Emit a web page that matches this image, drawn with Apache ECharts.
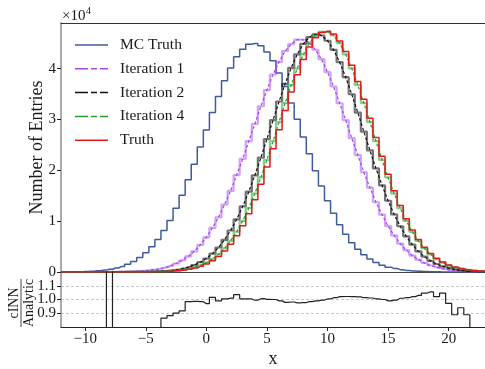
<!DOCTYPE html>
<html lang="en">
<head>
    <meta charset="UTF-8">
    <title>Unfolding iterations</title>
    <script src="https://cdn.jsdelivr.net/npm/echarts@6/dist/echarts.min.js"></script>
    <style>
        html, body { margin: 0; padding: 0; background: #fff; }
        #main { width: 485px; height: 369px; }
    </style>
</head>
<body>
<div id="main"></div>
<script>
    // bin centres, -12 ... 23 in steps of 0.5
    var binCenters = [];
    for (var b = -24; b <= 46; b++) binCenters.push(b / 2);

    var xTicks = [-10, -5, 0, 5, 10, 15, 20];
    var yTicks = [0, 10000, 20000, 30000, 40000];

    var mcTruth = [17, 28, 43, 70, 106, 168, 246, 372, 536, 780, 1091, 1542, 2088, 2861, 3770, 4985, 6380, 8150,
        10130, 12540, 15120, 18130, 21200, 24620, 27930, 31410, 34550, 37640, 40150, 42380, 43820, 44810, 44950,
        44540, 43270, 41590, 39160, 36480, 33280, 30060, 26570, 23270, 19920, 16930, 14030, 11560, 9290, 7420,
        5770, 4480, 3370, 2540, 1845, 1352, 952, 674, 460, 318, 209, 141, 89, 59, 35, 23, 14, 8, 5, 3, 2, 1, 1];

    var iter1 = [0, 0, 1, 1, 2, 4, 7, 11, 19, 31, 47, 78, 117, 183, 270, 405, 582, 848, 1190, 1672, 2278, 3080,
        4060, 5340, 6820, 8690, 10760, 13270, 15960, 19080, 22250, 25760, 29130, 32620, 35800, 38870, 41340,
        43490, 44850, 45710, 45700, 45140, 43740, 41880, 39330, 36500, 33210, 29900, 26340, 23000, 19630, 16620,
        13730, 11290, 9040, 7190, 5580, 4320, 3240, 2430, 1770, 1282, 904, 634, 435, 297, 197, 131, 83, 55, 33];

    var iter2 = [0, 0, 0, 0, 0, 0, 0, 1, 2, 3, 6, 10, 17, 29, 48, 77, 123, 192, 294, 443, 657, 956, 1368, 1924,
        2661, 3614, 4826, 6334, 8169, 10356, 12903, 15800, 19015, 22493, 26149, 29879, 33552, 37033, 40173,
        42830, 44880, 46220, 46784, 46542, 45506, 43729, 41301, 38338, 34975, 31363, 27639, 23939, 20380, 17050,
        14021, 11332, 9002, 7027, 5392, 4066, 3013, 2194, 1572, 1106, 765, 520, 347, 228, 147, 93, 58];

    var iter4 = [0, 0, 0, 0, 0, 0, 0, 0, 1, 1, 3, 5, 9, 17, 28, 45, 73, 116, 182, 279, 422, 626, 913, 1309, 1844,
        2555, 3479, 4656, 6123, 7917, 10062, 12567, 15428, 18618, 22083, 25745, 29502, 33228, 36786, 40030,
        42815, 45010, 46509, 47236, 47280, 46541, 45040, 42841, 40052, 36803, 33238, 29506, 25743, 22077, 18608,
        15415, 12553, 10046, 7902, 6110, 4642, 3467, 2546, 1836, 1302, 907, 622, 419, 277, 180, 112];

    var truth = [0, 0, 0, 0, 0, 0, 0, 0, 1, 1, 2, 4, 7, 13, 22, 36, 59, 94, 149, 231, 352, 527, 775, 1120, 1592,
        2223, 3052, 4119, 5461, 7117, 9118, 11477, 14201, 17269, 20641, 24246, 27994, 31765, 35423, 38830,
        41831, 44290, 46089, 47138, 47383, 46813, 45455, 43379, 40688, 37508, 33982, 30262, 26484, 22781, 19259,
        16002, 13069, 10489, 8274, 6415, 4888, 3660, 2695, 1949, 1386, 968, 665, 449, 298, 194, 124];

    // cINN / Analytic, '-' = empty bin
    var ratio = ['-', '-', '-', '-', '-', '-', '-', 0, 3, 0, 0, 0, 0, 0, 0, 0, 0, 0.864, 0.883, 0.901, 0.918,
        0.985, 0.986, 0.984, 0.970, 1.015, 0.990, 1.005, 1.010, 1.035, 1.005, 1.004, 0.995, 1.006, 1.001, 1.000,
        0.990, 0.979, 0.982, 0.975, 0.978, 0.985, 0.990, 0.996, 1.004, 1.013, 1.021, 1.022, 1.021, 1.019, 1.013,
        1.011, 1.004, 1.000, 0.990, 0.996, 1.009, 1.013, 1.021, 1.030, 1.047, 1.055, 1.021, 1.047, 0.972, 0.889,
        0.940, 0.889, 0, '-', '-'];

    var serif = '"Liberation Serif", "DejaVu Serif", serif';
    var ink = '#1a1a1a';
    var solidIcon = 'path://M0,0H33V2H0Z';
    var dashIcon = 'path://M0,0H13V2H0Z M16,0H22V2H16Z M25,0H33V2H25Z';

    function pairs(arr) {
        return binCenters.map(function (x, i) { return [x, arr[i]]; });
    }
    function minus(v) {
        return v < 0 ? '\u2212' + (-v) : String(v);
    }

    function stepLine(name, arr, color, width) {
        return {
            name: name, type: 'line', step: 'middle', data: pairs(arr), symbol: 'none',
            lineStyle: {color: color, width: width}, itemStyle: {color: color}
        };
    }
    function dashLine(name, arr, color) {
        return {
            name: name, type: 'line', data: pairs(arr), symbol: 'none',
            lineStyle: {color: color, width: 1.2, type: [3, 2]}, itemStyle: {color: color}
        };
    }

    var chart = echarts.init(document.getElementById('main'));
    var option = {
        animation: false,
        textStyle: {fontFamily: serif},
        grid: [
            {left: 61, right: -1, top: 23, height: 249},
            {left: 61, right: -1, top: 272, height: 62}
        ],
        xAxis: [
            {
                gridIndex: 0, type: 'value', min: -12, max: 23,
                axisLine: {onZero: false, lineStyle: {color: '#444', width: 1}},
                axisTick: {show: false}, axisLabel: {show: false}, splitLine: {show: false}
            },
            {
                gridIndex: 1, type: 'value', min: -12, max: 23,
                axisLine: {onZero: false, lineStyle: {color: '#222', width: 1}},
                axisTick: {inside: false, length: 4, customValues: xTicks, lineStyle: {color: '#222'}},
                axisLabel: {customValues: xTicks, formatter: minus, fontSize: 15, color: ink, margin: 5, fontFamily: serif},
                splitLine: {show: false},
                name: 'x', nameLocation: 'middle', nameGap: 23, nameMoveOverlap: false,
                nameTextStyle: {fontSize: 18, color: ink, fontFamily: serif}
            },
            {
                gridIndex: 0, type: 'value', min: -12, max: 23, position: 'top',
                axisLine: {onZero: false, lineStyle: {color: '#333', width: 1}},
                axisTick: {show: false}, axisLabel: {show: false}, splitLine: {show: false}
            }
        ],
        yAxis: [
            {
                gridIndex: 0, type: 'value', min: 0, max: 49000,
                axisLine: {show: true, onZero: false, lineStyle: {color: '#aaa', width: 2}},
                axisTick: {show: true, length: 4, customValues: yTicks, lineStyle: {color: '#222'}},
                axisLabel: {
                    customValues: yTicks, fontSize: 15, color: ink, margin: 5, fontFamily: serif,
                    formatter: function (v) { return String(v / 10000); }
                },
                splitLine: {show: false},
                name: 'Number of Entries', nameLocation: 'middle', nameRotate: 90, nameGap: 15, nameMoveOverlap: false,
                nameTextStyle: {fontSize: 18, color: ink, fontFamily: serif}
            },
            {
                gridIndex: 1, type: 'value', min: 0.8, max: 1.2, interval: 0.1,
                axisLine: {show: true, onZero: false, lineStyle: {color: '#aaa', width: 2}},
                axisTick: {show: true, length: 4, lineStyle: {color: '#222'}},
                axisLabel: {
                    fontSize: 15, color: ink, margin: 5, fontFamily: serif, showMinLabel: false, showMaxLabel: false,
                    formatter: function (v) { return v.toFixed(1); }
                },
                splitLine: {show: true, showMinLine: false, showMaxLine: false, lineStyle: {color: '#c8c8c8', type: [3, 2], width: 1}}
            }
        ],
        legend: {
            orient: 'vertical', left: 75, top: 37, padding: 0, itemWidth: 33, itemHeight: 1.5, itemGap: 7.8,
            symbolKeepAspect: false,
            data: [
                {name: 'MC Truth', icon: solidIcon},
                {name: 'Iteration 1', icon: dashIcon},
                {name: 'Iteration 2', icon: dashIcon},
                {name: 'Iteration 4', icon: dashIcon},
                {name: 'Truth', icon: solidIcon}
            ],
            textStyle: {fontSize: 15.5, color: ink, fontFamily: serif, lineHeight: 15, padding: [0, 0, 0, 7]}
        },
        graphic: [
            {type: 'text', left: 62, top: 9, style: {text: '\u00d710', font: '15px ' + serif, fill: ink}},
            {type: 'text', left: 86, top: 6, style: {text: '4', font: '10px ' + serif, fill: ink}},
            {
                type: 'group', x: 21, y: 303, rotation: Math.PI / 2,
                children: [
                    {type: 'text', x: 0, y: -7, style: {text: 'cINN', font: '14px ' + serif, fill: ink, align: 'center', verticalAlign: 'middle'}},
                    {type: 'line', shape: {x1: -24, y1: 0, x2: 24, y2: 0}, style: {stroke: ink, lineWidth: 0.8}},
                    {type: 'text', x: 0, y: 8, style: {text: 'Analytic', font: '14px ' + serif, fill: ink, align: 'center', verticalAlign: 'middle'}}
                ]
            }
        ],
        series: [
            stepLine('MC Truth', mcTruth, '#3f5b9c', 1.5),
            stepLine('Iteration 1 hist', iter1, 'rgba(164,69,240,0.5)', 2.2),
            dashLine('Iteration 1', iter1, '#a445f0'),
            stepLine('Iteration 2 hist', iter2, 'rgba(0,0,0,0.55)', 2.2),
            dashLine('Iteration 2', iter2, '#111111'),
            stepLine('Iteration 4 hist', iter4, 'rgba(44,160,44,0.55)', 2.2),
            dashLine('Iteration 4', iter4, '#2a9d2a'),
            stepLine('Truth', truth, '#e3191c', 1.5),
            {
                name: 'ratio', type: 'line', step: 'middle', xAxisIndex: 1, yAxisIndex: 1,
                data: pairs(ratio), symbol: 'none', clip: true,
                lineStyle: {color: '#222', width: 1.2}
            }
        ]
    };
    chart.setOption(option);
</script>
</body>
</html>
